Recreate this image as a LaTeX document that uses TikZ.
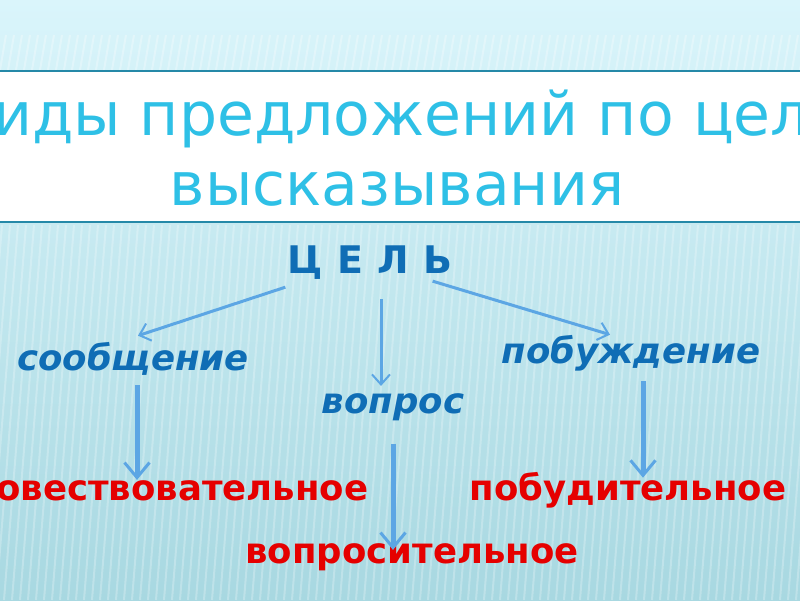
\documentclass[tikz,border=0pt]{standalone}
\usepackage{fontspec}
\setmainfont{DejaVu Sans}
\usetikzlibrary{positioning, arrows.meta}

\definecolor{titlecyan}{HTML}{2EC0E6}
\definecolor{goalblue}{HTML}{0F6DB5}
\definecolor{kindred}{HTML}{E50000}
\definecolor{arrowblue}{HTML}{5CA6E4}
\definecolor{bandline}{HTML}{2589A8}
\definecolor{bgtop}{HTML}{DAF5FB}
\definecolor{bgbot}{HTML}{A8D8E1}

\tikzset{
  title/.style={font=\fontsize{60}{62}\selectfont, text=titlecyan, inner sep=0pt, anchor=base},
  aim/.style={font=\bfseries\fontsize{38}{40}\selectfont\addfontfeatures{LetterSpace=3}, text=goalblue, inner sep=0pt, anchor=base},
  purpose/.style={font=\bfseries\itshape\fontsize{35.5}{40}\selectfont, text=goalblue, inner sep=0pt, anchor=base},
  kind/.style={font=\bfseries\fontsize{35.5}{40}\selectfont, text=kindred, inner sep=0pt, anchor=base},
  thin arrow/.style={draw=arrowblue, line width=3pt, -{Straight Barb[length=10pt,width=18pt,line width=2pt]}},
  thick arrow/.style={draw=arrowblue, line width=5pt, -{Straight Barb[length=15pt,width=25pt,line width=3pt]}},
}

\begin{document}
\begin{tikzpicture}[x=1pt, y=-1pt]
	\useasboundingbox (0,0) rectangle (800,600);
	\clip (0,0) rectangle (800,600);
	
	% background
	\shade[top color=bgtop, bottom color=bgbot] (0,0) rectangle (800,600);
	\foreach \x in {-60,-52,...,820}
		\draw[white, opacity=.25, line width=2pt] (\x,600) -- (\x+30,225);
	\foreach \x in {0,8,...,800}
		\draw[white, opacity=.3, line width=2pt] (\x,70) -- (\x+6,35);
	\fill[white] (0,71) rectangle (800,222);
	\draw[bandline, line width=2.5pt] (0,71) -- (800,71) (0,222) -- (800,222);
	
	% title
	\node[title] (head1) at (400,135) {Виды предложений по цели};
	\node[title] (head2) at (397,205) {высказывания};
	
	% tree
	\node[aim] (goal) at (370,273) {Ц Е Л Ь};
	\node[purpose] (msg) at (133,370) {сообщение};
	\node[purpose] (ask) at (393,413) {вопрос};
	\node[purpose] (urge) at (631,363) {побуждение};
	\node[kind] (narr) at (170,500) {повествовательное};
	\node[kind] (inter) at (412,563) {вопросительное};
	\node[kind] (incent) at (628,500) {побудительное};
	
	\draw[thin arrow] ([xshift=-2pt,yshift=-8pt]goal.south west) -- ([xshift=5pt,yshift=6pt]msg.north);
	\draw[thin arrow] ([xshift=11pt,yshift=-20pt]goal.south) -- ([xshift=-12pt,yshift=7pt]ask.north);
	\draw[thin arrow] ([xshift=-20pt,yshift=-2pt]goal.south east) -- ([xshift=-21pt]urge.north);
	
	\draw[thick arrow] ([xshift=4pt,yshift=-10pt]msg.south) -- ([xshift=4pt]msg.south |- narr.north);
	\draw[thick arrow, shorten >=-7pt] ([yshift=-23pt]ask.south) -- (ask.south |- inter.north);
	\draw[thick arrow, shorten >=-6pt] ([xshift=12pt,yshift=-10pt]urge.south) -- ([xshift=12pt]urge.south |- incent.north);
\end{tikzpicture}
\end{document}
